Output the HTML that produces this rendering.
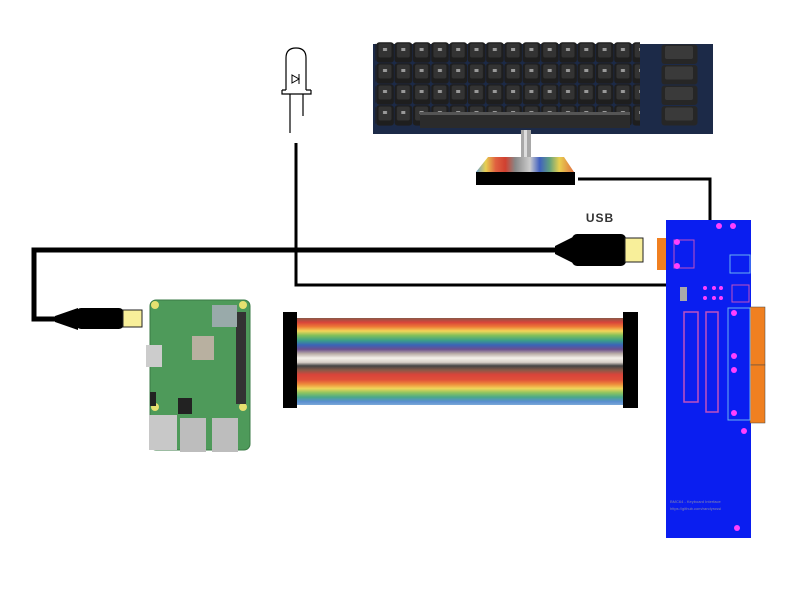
<!DOCTYPE html>
<html><head><meta charset="utf-8"><style>
html,body{margin:0;padding:0;background:#fff;}
svg{display:block;}
</style></head><body>
<svg width="800" height="600" viewBox="0 0 800 600" xmlns="http://www.w3.org/2000/svg">
<defs>
<pattern id="keys" x="376" y="42" width="18.3" height="21" patternUnits="userSpaceOnUse">
<rect x="0.3" y="0.3" width="17.6" height="20.3" rx="3" fill="#1e1e1e"/>
<rect x="2.5" y="1.5" width="13" height="14" rx="2" fill="#333"/>
<rect x="7" y="6" width="4" height="3" fill="#999"/>
</pattern>
<pattern id="fkeys" x="661" y="44" width="38" height="20.5" patternUnits="userSpaceOnUse">
<rect x="0.5" y="0.5" width="36" height="19.5" rx="3" fill="#262626"/>
<rect x="4" y="2" width="28" height="13" rx="2" fill="#3a3a3a"/>
</pattern>
<linearGradient id="rib" x1="0" y1="0" x2="0" y2="1">
<stop offset="0" stop-color="#8a5a48"/><stop offset="0.05" stop-color="#d9443a"/>
<stop offset="0.1" stop-color="#ee7a36"/><stop offset="0.15" stop-color="#f2d55a"/>
<stop offset="0.2" stop-color="#80c05a"/><stop offset="0.26" stop-color="#3a9e8a"/>
<stop offset="0.31" stop-color="#3a64b8"/><stop offset="0.36" stop-color="#6b4f8e"/>
<stop offset="0.41" stop-color="#b8aca6"/><stop offset="0.46" stop-color="#f4f0ea"/>
<stop offset="0.51" stop-color="#d8d0c8"/><stop offset="0.55" stop-color="#444"/>
<stop offset="0.6" stop-color="#8a5a48"/><stop offset="0.65" stop-color="#d9443a"/>
<stop offset="0.71" stop-color="#e0503a"/><stop offset="0.76" stop-color="#ee8a3a"/>
<stop offset="0.81" stop-color="#f2d55a"/><stop offset="0.86" stop-color="#8cc460"/>
<stop offset="0.91" stop-color="#4aa88a"/><stop offset="0.96" stop-color="#5a8ed0"/>
<stop offset="1" stop-color="#7aa8d8"/>
</linearGradient>
<linearGradient id="fan" x1="0" y1="0" x2="1" y2="0">
<stop offset="0" stop-color="#6aa0d0"/><stop offset="0.1" stop-color="#e8d050"/>
<stop offset="0.2" stop-color="#e06040"/><stop offset="0.3" stop-color="#d04030"/>
<stop offset="0.4" stop-color="#888"/><stop offset="0.55" stop-color="#ccc"/>
<stop offset="0.65" stop-color="#4060c0"/><stop offset="0.75" stop-color="#60a080"/>
<stop offset="0.85" stop-color="#e8d050"/><stop offset="1" stop-color="#e07040"/>
</linearGradient>
</defs>

<!-- Keyboard -->
<rect x="373" y="44" width="340" height="90" fill="#1c2a48"/>
<rect x="375" y="42" width="265" height="84" fill="url(#keys)"/>
<rect x="661" y="44" width="38" height="82" fill="url(#fkeys)"/>
<rect x="420" y="112" width="210" height="16" fill="#2b2b2b"/>
<rect x="420" y="112" width="210" height="3" fill="#555"/>
<!-- stem + fan -->
<rect x="521" y="130" width="10" height="28" fill="#a8a8a8"/>
<rect x="524" y="130" width="3" height="28" fill="#ddd"/>
<polygon points="488,157 564,157 574,172 476,172" fill="url(#fan)"/>
<rect x="476" y="172" width="99" height="13" fill="#000"/>

<!-- keyboard line to PCB -->
<polyline points="578,179 710,179 710,315" fill="none" stroke="#000" stroke-width="3"/>

<!-- LED -->
<path d="M286,90 L286,58 Q286,48 296,48 Q306,48 306,58 L306,90" fill="none" stroke="#000" stroke-width="1.2"/>
<path d="M282,90 L286,90 M306,90 L311,90 M282,90 L282,94 L311,94 L311,90" fill="none" stroke="#000" stroke-width="1.2"/>
<polygon points="292,83 299,79 292,75" fill="none" stroke="#000" stroke-width="1"/>
<line x1="299" y1="74" x2="299" y2="84" stroke="#000" stroke-width="1"/>
<line x1="290" y1="94" x2="290" y2="133" stroke="#000" stroke-width="1.2"/>
<line x1="303" y1="94" x2="303" y2="116" stroke="#000" stroke-width="1.2"/>

<!-- LED wire -->
<polyline points="296,143 296,285 666,285" fill="none" stroke="#000" stroke-width="3"/>

<!-- USB cable -->
<polyline points="570,250 34,250 34,319 60,319" fill="none" stroke="#000" stroke-width="5"/>
<polygon points="555,246 575,236 575,264 555,254" fill="#000"/>
<rect x="572" y="234" width="54" height="32" rx="5" fill="#000"/>
<rect x="625" y="238" width="18" height="24" fill="#f8ef9a" stroke="#222" stroke-width="1"/>
<text x="600" y="222" font-family="Liberation Sans, sans-serif" font-size="12" font-weight="bold" fill="#333" text-anchor="middle" letter-spacing="1">USB</text>
<polygon points="55,316 78,308 78,330 55,322" fill="#000"/>
<rect x="76" y="308" width="48" height="21" rx="5" fill="#000"/>
<rect x="123" y="310" width="19" height="17" fill="#f8ef9a" stroke="#222" stroke-width="1"/>

<!-- Raspberry Pi -->
<rect x="150" y="300" width="100" height="150" rx="6" fill="#4e9a5a"/>
<rect x="150" y="300" width="100" height="150" rx="6" fill="none" stroke="#3a7a44"/>
<circle cx="155" cy="305" r="4" fill="#e6e070"/><circle cx="243" cy="305" r="4" fill="#e6e070"/>
<circle cx="155" cy="407" r="4" fill="#e6e070"/><circle cx="243" cy="407" r="4" fill="#e6e070"/>
<rect x="236" y="312" width="10" height="92" fill="#333"/>
<rect x="212" y="305" width="25" height="22" fill="#9aa"/>
<rect x="192" y="336" width="22" height="24" fill="#b8b0a0"/>
<rect x="146" y="345" width="16" height="22" fill="#ccc"/>
<rect x="150" y="392" width="6" height="14" fill="#222"/>
<rect x="178" y="398" width="14" height="16" fill="#222"/>
<rect x="149" y="415" width="28" height="35" fill="#c8c8c8"/>
<rect x="180" y="418" width="26" height="34" fill="#bdbdbd"/>
<rect x="212" y="418" width="26" height="34" fill="#bdbdbd"/>

<!-- Ribbon -->
<rect x="297" y="318" width="326" height="87" fill="url(#rib)"/>
<rect x="283" y="312" width="14" height="96" fill="#000"/>
<rect x="623" y="312" width="15" height="96" fill="#000"/>

<!-- PCB -->
<rect x="657" y="238" width="11" height="32" fill="#f08020"/>
<rect x="666" y="220" width="85" height="318" fill="#0a1ef0"/>
<rect x="750" y="307" width="15" height="58" fill="#f08020" stroke="#444" stroke-width="0.5"/>
<rect x="750" y="365" width="15" height="58" fill="#f08020" stroke="#444" stroke-width="0.5"/>
<rect x="684" y="312" width="14" height="90" fill="none" stroke="#c050c0" stroke-width="1.5"/>
<rect x="706" y="312" width="12" height="100" fill="none" stroke="#c050c0" stroke-width="1.5"/>
<rect x="728" y="308" width="22" height="112" fill="none" stroke="#6ab0f0" stroke-width="1"/>
<rect x="674" y="240" width="20" height="28" fill="none" stroke="#c050c0" stroke-width="1"/>
<rect x="730" y="255" width="20" height="18" fill="none" stroke="#6ab0f0" stroke-width="1"/>
<rect x="732" y="285" width="17" height="17" fill="none" stroke="#c050c0" stroke-width="1"/>
<g fill="#ff40ff">
<circle cx="719" cy="226" r="3"/><circle cx="733" cy="226" r="3"/>
<circle cx="677" cy="242" r="3"/><circle cx="677" cy="266" r="3"/>
<circle cx="705" cy="288" r="2"/><circle cx="714" cy="288" r="2"/><circle cx="721" cy="288" r="2"/>
<circle cx="705" cy="298" r="2"/><circle cx="714" cy="298" r="2"/><circle cx="721" cy="298" r="2"/>
<circle cx="734" cy="313" r="3"/><circle cx="734" cy="356" r="3"/><circle cx="734" cy="370" r="3"/><circle cx="734" cy="413" r="3"/>
<circle cx="744" cy="431" r="3"/><circle cx="737" cy="528" r="3"/>
</g>
<rect x="680" y="287" width="7" height="14" fill="#aaa"/>
<text x="670" y="503" font-family="Liberation Sans, sans-serif" font-size="4" fill="#88a">BMC64 - Keyboard Interface</text>
<text x="670" y="510" font-family="Liberation Sans, sans-serif" font-size="4" fill="#88a">https://github.com/randyrossi</text>
</svg>
</body></html>
